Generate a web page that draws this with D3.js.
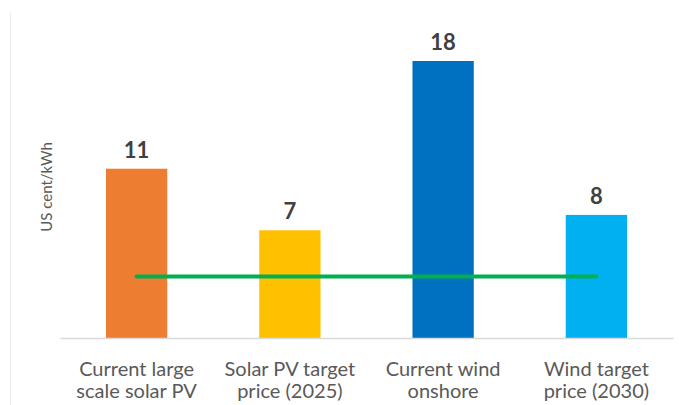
<!DOCTYPE html>
<html>
<head>
<meta charset="utf-8">
<script src="https://cdn.jsdelivr.net/npm/d3@7/dist/d3.min.js"></script>
<style>
  html, body { margin: 0; padding: 0; background: #fff; }
  svg { display: block; }
</style>
</head>
<body>
<svg id="chart" width="679" height="405"></svg>
<script>
// Levelised cost of electricity, US cent/kWh
const categories = [
  ["Current large", "scale solar PV"],
  ["Solar PV target", "price (2025)"],
  ["Current wind", "onshore"],
  ["Wind target", "price (2030)"]
];
const values = [11, 7, 18, 8];
const barColors = ["#ED7D31", "#FFC000", "#0070C0", "#00B0F0"];
const referenceValue = 4;
const yLabel = "US cent/kWh";

const svg = d3.select("#chart");
const font = "Lato, 'Open Sans', sans-serif";

const x = d3.scaleBand()
  .domain(d3.range(values.length))
  .range([60, 673])
  .paddingInner(0.6)
  .paddingOuter(0.3);

const y = d3.scaleLinear()
  .domain([0, 18])
  .range([338, 61]);

// faint frame line on the left
svg.append("line")
  .attr("x1", 10.5).attr("x2", 10.5)
  .attr("y1", 12).attr("y2", 405)
  .attr("stroke", "#ececec").attr("stroke-width", 1);

// bars
svg.selectAll("rect.bar")
  .data(values)
  .join("rect")
  .attr("class", "bar")
  .attr("x", (d, i) => x(i))
  .attr("width", x.bandwidth())
  .attr("y", d => y(d))
  .attr("height", d => y(0) - y(d))
  .attr("fill", (d, i) => barColors[i]);

// value labels
svg.selectAll("text.value")
  .data(values)
  .join("text")
  .attr("class", "value")
  .attr("x", (d, i) => x(i) + x.bandwidth() / 2)
  .attr("y", d => y(d) - 11)
  .attr("text-anchor", "middle")
  .attr("font-family", font)
  .attr("font-weight", "bold")
  .attr("font-size", 22)
  .attr("fill", "#404040")
  .text(d => d);

// category axis
const xAxis = d3.axisBottom(x).tickSize(0).tickFormat("");
const gx = svg.append("g")
  .attr("transform", `translate(0,${y(0)})`)
  .call(xAxis);
gx.select(".domain").attr("stroke", "#d9d9d9").attr("stroke-width", 1.5);

// two-line category labels
svg.selectAll("text.cat")
  .data(categories)
  .join("text")
  .attr("class", "cat")
  .attr("x", (d, i) => x(i) + x.bandwidth() / 2)
  .attr("y", 376)
  .attr("text-anchor", "middle")
  .attr("font-family", font)
  .attr("font-size", 20)
  .attr("fill", "#595959")
  .selectAll("tspan")
  .data(d => d)
  .join("tspan")
  .attr("x", function () { return d3.select(this.parentNode).attr("x"); })
  .attr("dy", (d, j) => j === 0 ? 0 : 22)
  .text(d => d);

// reference price line across the category centres
const centres = values.map((d, i) => x(i) + x.bandwidth() / 2);
svg.append("line")
  .attr("x1", d3.min(centres)).attr("x2", d3.max(centres))
  .attr("y1", y(referenceValue)).attr("y2", y(referenceValue))
  .attr("stroke", "#00B050")
  .attr("stroke-width", 4)
  .attr("stroke-linecap", "round");

// y-axis title
svg.append("text")
  .attr("transform", `translate(52,187) rotate(-90)`)
  .attr("text-anchor", "middle")
  .attr("font-family", font)
  .attr("font-size", 15)
  .attr("fill", "#595959")
  .text(yLabel);
</script>
</body>
</html>
